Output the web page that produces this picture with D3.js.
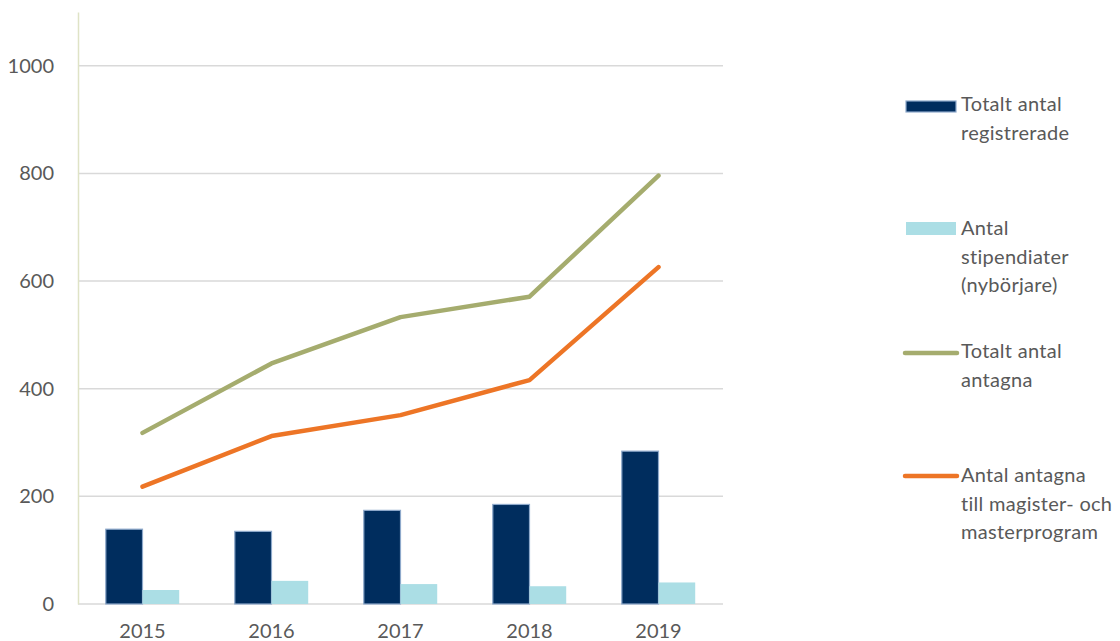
<!DOCTYPE html>
<html><head><meta charset="utf-8">
<script src="https://cdn.jsdelivr.net/npm/d3@7"></script>
<style>body{margin:0;background:#fff}svg{display:block}text{font-family:Lato,"Open Sans",sans-serif;fill:#595959}</style>
</head><body><svg id="c" width="1120" height="641"></svg>
<script>
const years = ["2015","2016","2017","2018","2019"];
const registrerade = [139, 135, 174, 185, 284];
const stipendiater = [26, 43, 37, 33, 40];
const antagna = [318, 447, 533, 571, 796];
const magister = [218, 312, 351, 416, 626];
const yTicks = [0, 200, 400, 600, 800, 1000];
const legendLabels = [["Totalt antal","registrerade"],["Antal","stipendiater","(nybörjare)"],["Totalt antal","antagna"],["Antal antagna","till magister- och","masterprogram"]];

const svg = d3.select("#c");
const x = d3.scaleBand().domain(years).range([78, 723]).paddingInner(0).paddingOuter(0);
const xs = d3.scaleBand().domain(["reg","stip"]).range([0, x.bandwidth()]).paddingOuter(0.757).paddingInner(0);
const y = d3.scaleLinear().domain([0, 1100]).range([604, 12]);

// gridlines
svg.append("g").selectAll("line").data(yTicks).join("line")
  .attr("x1", 78).attr("x2", 723).attr("y1", d => y(d)).attr("y2", d => y(d))
  .attr("stroke", "#d9d9d9").attr("stroke-width", 1.5);

// y axis
const ya = svg.append("g").attr("transform", "translate(78,0)")
  .call(d3.axisLeft(y).tickValues(yTicks).tickSize(0).tickPadding(24).tickFormat(d3.format("d")));
ya.select(".domain").attr("stroke", "#dfe3c6").attr("stroke-width", 1.5);
ya.selectAll("text").style("font-size", "20px").style("font-family", "Lato,'Open Sans',sans-serif").attr("fill", "#595959");

// x axis labels
const xa = svg.append("g").attr("transform", "translate(0,604)")
  .call(d3.axisBottom(x).tickSize(0).tickPadding(20));
xa.select(".domain").remove();
xa.selectAll("text").style("font-size", "20px").style("font-family", "Lato,'Open Sans',sans-serif").attr("fill", "#595959");

// bars
const g = svg.append("g");
g.selectAll("rect.reg").data(years).join("rect").attr("class","reg")
  .attr("x", (d) => x(d) + xs("reg")).attr("width", xs.bandwidth())
  .attr("y", (d,i) => y(registrerade[i])).attr("height", (d,i) => y(0) - y(registrerade[i]))
  .attr("fill", "#002d5e").attr("stroke", "#8ea9cb").attr("stroke-width", 1.2);
g.selectAll("rect.stip").data(years).join("rect").attr("class","stip")
  .attr("x", (d) => x(d) + xs("stip")).attr("width", xs.bandwidth())
  .attr("y", (d,i) => y(stipendiater[i])).attr("height", (d,i) => y(0) - y(stipendiater[i]))
  .attr("fill", "#abdee5");

// lines
const line = d3.line().x((d,i) => x(years[i]) + x.bandwidth()/2).y(d => y(d));
svg.append("path").datum(antagna).attr("d", line).attr("fill","none")
  .attr("stroke","#a5ac6e").attr("stroke-width",4.5).attr("stroke-linecap","round").attr("stroke-linejoin","round");
svg.append("path").datum(magister).attr("d", line).attr("fill","none")
  .attr("stroke","#ed7526").attr("stroke-width",4.5).attr("stroke-linecap","round").attr("stroke-linejoin","round");

// legend
const lg = svg.append("g");
const baseY = [111, 235, 358, 482];
const lh = 28.5;
lg.append("rect").attr("x",906).attr("y",101).attr("width",50).attr("height",11).attr("fill","#002d5e").attr("stroke","#8ea9cb").attr("stroke-width",1.2);
lg.append("rect").attr("x",906).attr("y",222).attr("width",50).attr("height",13).attr("fill","#abdee5");
lg.append("line").attr("x1",905).attr("x2",957).attr("y1",353).attr("y2",353).attr("stroke","#a5ac6e").attr("stroke-width",4.5).attr("stroke-linecap","round");
lg.append("line").attr("x1",905).attr("x2",957).attr("y1",476).attr("y2",476).attr("stroke","#ed7526").attr("stroke-width",4.5).attr("stroke-linecap","round");
legendLabels.forEach((lines, k) => {
  const t = lg.append("text").attr("x", 961).attr("y", baseY[k]).style("font-size","20px").style("letter-spacing","0.3px");
  lines.forEach((s, j) => t.append("tspan").attr("x", 961).attr("y", baseY[k] + j*lh).text(s));
});
</script></body></html>
